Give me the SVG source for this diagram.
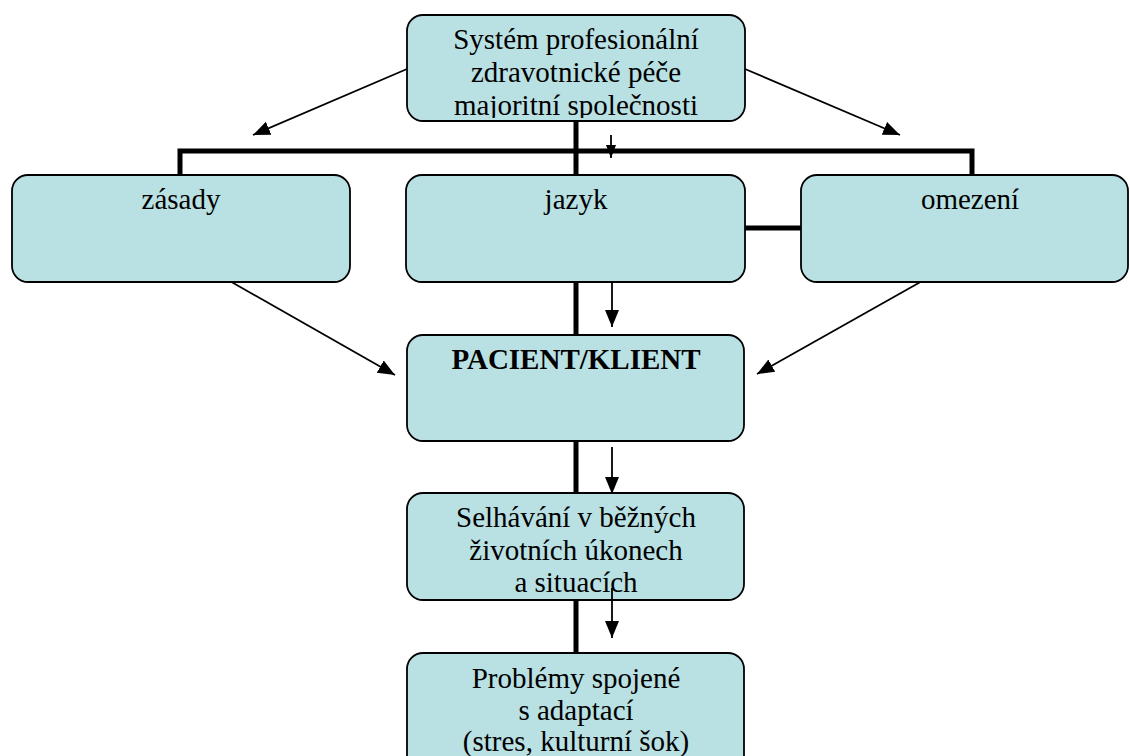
<svg xmlns="http://www.w3.org/2000/svg" width="1130" height="756" viewBox="0 0 1130 756">
<style>
.box{fill:#b9e0e3;stroke:#000;stroke-width:1.8}
.t{font-family:"Liberation Serif","Times New Roman",serif;font-size:29px;fill:#000;text-anchor:middle}
.b{font-weight:bold}
.thick{stroke:#000;stroke-width:5;fill:none}
.thin{stroke:#000;stroke-width:1.8;fill:none;marker-end:url(#ah)}
</style>
<defs>
<marker id="ah" markerUnits="userSpaceOnUse" markerWidth="18" markerHeight="16" viewBox="0 0 18 16" refX="17" refY="8" orient="auto">
<path d="M0,1 L17,8 L0,15 Z" fill="#000"/>
</marker>
<marker id="ahs" markerUnits="userSpaceOnUse" markerWidth="14" markerHeight="12" viewBox="0 0 14 12" refX="13" refY="6" orient="auto">
<path d="M0,1 L13,6 L0,11 Z" fill="#000"/>
</marker>
<clipPath id="clipTop"><rect x="407" y="15" width="338" height="103"/></clipPath>
</defs>
<g id="connectors">
<polyline class="thick" points="180,177 180,151 972,151 972,177"/>
<line class="thick" x1="576" y1="121" x2="576" y2="177"/>
<line class="thick" x1="745" y1="228" x2="801" y2="228"/>
<line class="thick" x1="576" y1="282" x2="576" y2="335"/>
<line class="thick" x1="576" y1="441" x2="576" y2="493"/>
<line class="thick" x1="576" y1="600" x2="576" y2="653"/>
<line class="thin" x1="407" y1="69" x2="253" y2="135"/>
<line class="thin" x1="745" y1="69" x2="900" y2="135"/>
<line stroke="#000" stroke-width="1.8" x1="611" y1="135" x2="611" y2="158" marker-end="url(#ahs)"/>
<line class="thin" x1="612" y1="280" x2="612" y2="327"/>
<line class="thin" x1="228" y1="280" x2="395" y2="375"/>
<line class="thin" x1="924" y1="280" x2="757" y2="374"/>
<line class="thin" x1="612" y1="447" x2="612" y2="494"/>
</g>
<g id="n_system">
<rect class="box" x="407" y="15" width="338" height="106" rx="16"/>
<g clip-path="url(#clipTop)">
<text class="t" x="576" y="49">Systém profesionální</text>
<text class="t" x="576" y="82">zdravotnické péče</text>
<text class="t" x="576" y="115">majoritní společnosti</text>
</g>
</g>
<g id="n_zasady">
<rect class="box" x="12" y="175" width="338" height="107" rx="16"/>
<text class="t" x="181" y="209">zásady</text>
</g>
<g id="n_jazyk">
<rect class="box" x="406" y="175" width="339" height="107" rx="16"/>
<text class="t" x="576" y="209">jazyk</text>
</g>
<g id="n_omezeni">
<rect class="box" x="801" y="175" width="327" height="107" rx="16"/>
<text class="t" x="970" y="209">omezení</text>
</g>
<g id="n_pacient">
<rect class="box" x="407" y="335" width="337" height="106" rx="16"/>
<text class="t b" x="576" y="369">PACIENT/KLIENT</text>
</g>
<g id="n_selhavani">
<rect class="box" x="407" y="493" width="337" height="107" rx="16"/>
<text class="t" x="576" y="527">Selhávání v běžných</text>
<text class="t" x="576" y="560">životních úkonech</text>
<text class="t" x="576" y="592">a situacích</text>
</g>
<g id="n_problemy">
<rect class="box" x="407" y="653" width="337" height="120" rx="16"/>
<text class="t" x="576" y="688">Problémy spojené</text>
<text class="t" x="576" y="720">s adaptací</text>
<text class="t" x="576" y="751">(stres, kulturní šok)</text>
</g>
<g id="connectors-over">
<line class="thin" x1="612" y1="588" x2="612" y2="638"/>
</g>
</svg>
